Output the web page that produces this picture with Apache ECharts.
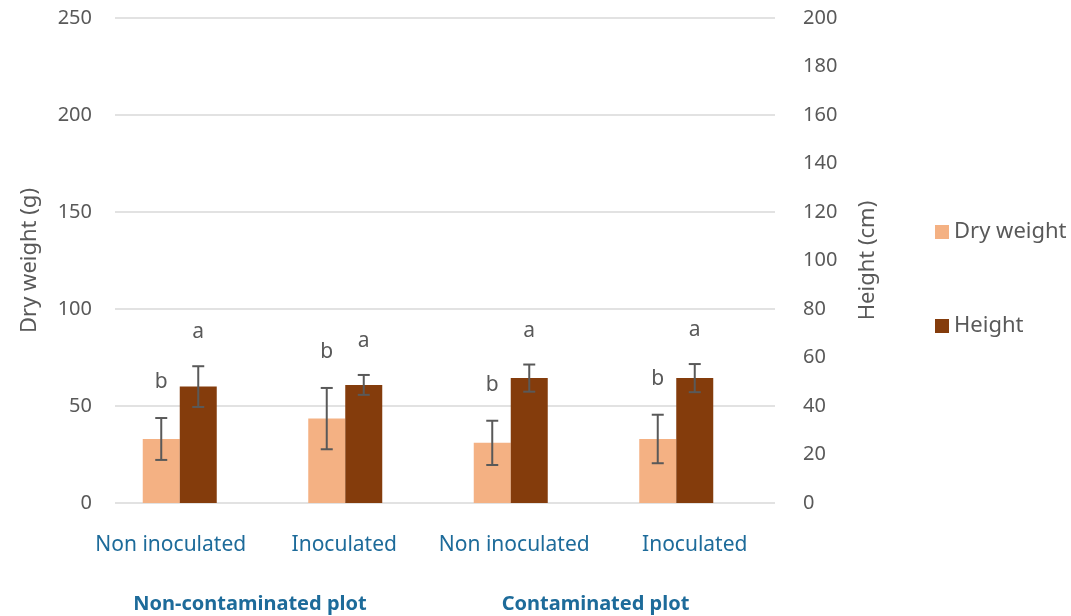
<!DOCTYPE html>
<html>
<head>
<meta charset="utf-8">
<script src="https://cdn.jsdelivr.net/npm/echarts@6/dist/echarts.min.js"></script>
<style>
  html, body { margin: 0; padding: 0; background: #fff; }
  #chart { width: 1071px; height: 616px; }
</style>
</head>
<body>
<div id="chart"></div>
<script>
// categories and values
const categories = ['Non inoculated', 'Inoculated', 'Non inoculated', 'Inoculated'];
const groups = ['Non-contaminated plot', 'Contaminated plot'];
const dryWeight = [33, 43.5, 31, 33];
const dryWeightErr = [10.8, 15.8, 11.4, 12.5];
const height = [48, 48.7, 51.5, 51.5];
const heightErr = [8.4, 4.1, 5.6, 5.8];
const dryLetters = ['b', 'b', 'b', 'b'];
const heightLetters = ['a', 'a', 'a', 'a'];

(function () {
    const chart = echarts.init(document.getElementById('chart'));
    const font = 'Noto Sans';
    const grey = '#595959';
    const blue = '#1d6b9a';

    // error bar + significance letter
    function errorSeries(name, vals, errs, letters, yIdx, dx, lift) {
        return {
            name: name + ' err',
            type: 'custom',
            xAxisIndex: 1,
            yAxisIndex: yIdx,
            z: 5,
            silent: true,
            data: vals.map(function (v, i) { return [i, v - errs[i], v + errs[i], letters[i]]; }),
            renderItem: function (params, api) {
                const lo = api.coord([api.value(0), api.value(1)]);
                const hi = api.coord([api.value(0), api.value(2)]);
                const x = lo[0] + dx;
                const cap = 6;
                const st = { stroke: grey, lineWidth: 2 };
                return {
                    type: 'group',
                    children: [
                        { type: 'line', shape: { x1: x, y1: lo[1], x2: x, y2: hi[1] }, style: st },
                        { type: 'line', shape: { x1: x - cap, y1: lo[1], x2: x + cap, y2: lo[1] }, style: st },
                        { type: 'line', shape: { x1: x - cap, y1: hi[1], x2: x + cap, y2: hi[1] }, style: st },
                        {
                            type: 'text',
                            style: {
                                x: x, y: hi[1] - lift,
                                text: api.value(3),
                                fill: grey, font: '21px "' + font + '"',
                                align: 'center', verticalAlign: 'middle'
                            }
                        }
                    ]
                };
            }
        };
    }

    // small shifts so the category labels sit where the original put them
    const catRich = {
        c0: { padding: [0, 18, 0, 0] },
        c1: { padding: [0, 2, 0, 0] },
        c2: { padding: [0, 0, 0, 7] },
        c3: { padding: [0, 0, 0, 37] }
    };
    const grpStyle = { fontWeight: 'bold', fontSize: 20, color: blue, fontFamily: font };

    chart.setOption({
        animation: false,
        textStyle: { fontFamily: font },
        legend: {
            orient: 'vertical',
            left: 930,
            top: 216,
            itemWidth: 14,
            itemHeight: 14,
            itemGap: 72,
            icon: 'rect',
            textStyle: { color: grey, fontSize: 22, fontFamily: font },
            data: ['Dry weight', 'Height']
        },
        grid: [
            { left: 115, right: 296, top: 18, bottom: 113 },
            { left: 97, right: 312, top: 18, bottom: 113 }
        ],
        xAxis: [
            { gridIndex: 0, type: 'category', data: categories, show: false },
            {
                gridIndex: 1, type: 'category', data: categories,
                axisLine: { show: false }, axisTick: { show: false },
                axisLabel: {
                    interval: 0, margin: 32, fontSize: 21, color: blue, fontFamily: font,
                    formatter: function (v, i) { return '{c' + i + '|' + v + '}'; },
                    rich: catRich
                }
            },
            {
                gridIndex: 1, type: 'category', data: groups, position: 'bottom',
                axisLine: { show: false }, axisTick: { show: false },
                axisLabel: {
                    interval: 0, margin: 91, fontSize: 20, fontWeight: 'bold', color: blue, fontFamily: font,
                    formatter: function (v, i) { return '{g' + i + '|' + v + '}'; },
                    rich: {
                        g0: Object.assign({ padding: [0, 25, 0, 0] }, grpStyle),
                        g1: Object.assign({ padding: [0, 0, 0, 4] }, grpStyle)
                    }
                }
            }
        ],
        yAxis: [
            {
                gridIndex: 0, type: 'value', min: 0, max: 250, interval: 50, position: 'left',
                name: 'Dry weight (g)', nameLocation: 'middle', nameGap: 74, nameRotate: 90,
                nameTextStyle: { color: grey, fontSize: 22, fontFamily: font },
                axisLine: { show: false }, axisTick: { show: false },
                axisLabel: { margin: 23, fontSize: 20, color: grey, fontFamily: font },
                splitLine: { lineStyle: { color: '#d9d9d9', width: 1.5 } }
            },
            {
                gridIndex: 0, type: 'value', min: 0, max: 200, interval: 20, position: 'right',
                name: 'Height (cm)', nameLocation: 'middle', nameGap: 82, nameRotate: 90,
                nameTextStyle: { color: grey, fontSize: 22, fontFamily: font },
                axisLine: { show: false }, axisTick: { show: false },
                axisLabel: { margin: 28, fontSize: 20, color: grey, fontFamily: font },
                splitLine: { show: false }
            },
            { gridIndex: 1, type: 'value', min: 0, max: 250, show: false, splitLine: { show: false } },
            { gridIndex: 1, type: 'value', min: 0, max: 200, show: false, splitLine: { show: false } }
        ],
        series: [
            {
                name: 'Dry weight', type: 'bar', xAxisIndex: 1, yAxisIndex: 2,
                data: dryWeight, barWidth: 37, barGap: '0%',
                itemStyle: { color: '#f4b183' }
            },
            {
                name: 'Height', type: 'bar', xAxisIndex: 1, yAxisIndex: 3,
                data: height, barWidth: 37, barGap: '0%',
                itemStyle: { color: '#843c0c' }
            },
            errorSeries('Dry weight', dryWeight, dryWeightErr, dryLetters, 2, -18.5, 36),
            errorSeries('Height', height, heightErr, heightLetters, 3, 18.5, 34)
        ]
    });
})();
</script>
</body>
</html>
